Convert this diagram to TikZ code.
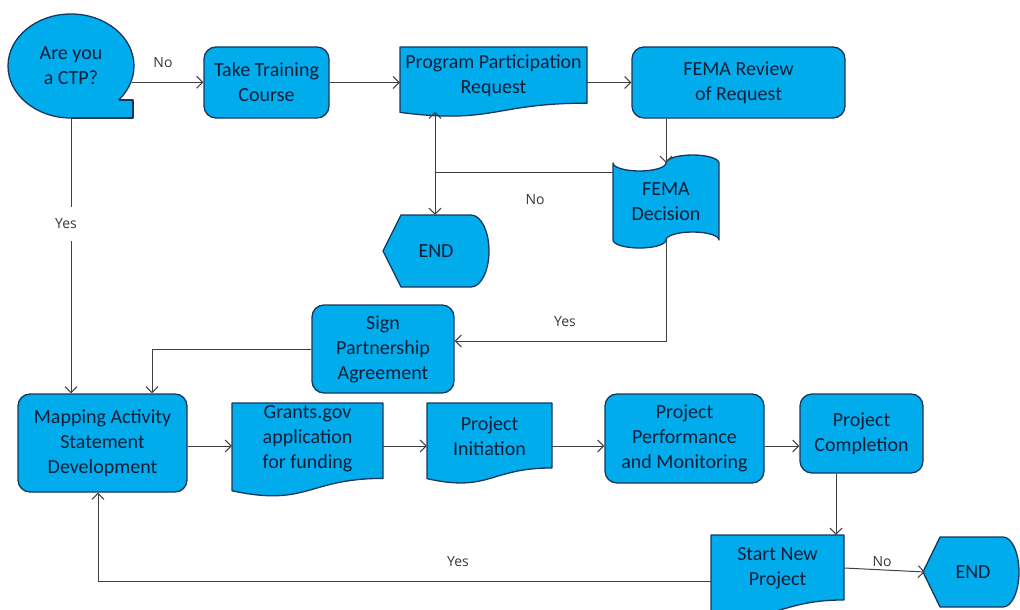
\documentclass[tikz,border=0pt]{standalone}
\usepackage{fontspec}
\setmainfont{Carlito}
\newfontfamily\lblfont{Open Sans}
\usetikzlibrary{arrows.meta,shapes.geometric,calc}
\definecolor{boxc}{RGB}{0,172,236}
\definecolor{edgec}{RGB}{23,55,94}
\definecolor{txtc}{RGB}{12,30,56}
\definecolor{linec}{RGB}{64,64,64}
\definecolor{lblc}{RGB}{55,55,55}
\tikzset{
  shapest/.style={draw=edgec, fill=boxc, line width=1.3pt, line join=round},
  txt/.style={text=txtc, align=center, inner sep=0pt, font=\fontsize{20}{25}\selectfont},
  boxst/.style={shapest, txt, rounded corners=12pt},
  conn/.style={draw=linec, line width=1pt, -{Straight Barb[length=6pt,width=12pt]}},
  plain/.style={draw=linec, line width=1pt},
  lbl/.style={text=lblc, font=\lblfont\fontsize{14}{16}\selectfont, inner sep=1pt},
}
\newcommand{\docshape}[4]{%
  \filldraw[shapest] (#1,#2) -- ({#1+#3},#2) -- ({#1+#3},{#2-0.802*#4})
    .. controls ({#1+0.5*#3},{#2-0.802*#4}) and ({#1+0.5*#3},{#2-1.107*#4}) ..
    (#1,{#2-0.934*#4}) -- cycle;}
\begin{document}
\begin{tikzpicture}[x=1pt,y=1pt]
\useasboundingbox (0,0) rectangle (1020,-610);
% ---- shapes ----
\node[shapest, txt, ellipse, minimum width=126pt, minimum height=104pt] (ctp) at (71,-66) {Are you\\a CTP?};
\fill[boxc] (71,-100) rectangle (133,-118);
\draw[draw=edgec, line width=1.3pt, line join=round] (118.6,-100) -- (133,-100) -- (133,-118) -- (71,-118);

\node[boxst, minimum width=125pt, minimum height=71pt] (train) at (266.5,-82.5) {Take Training\\Course};

\docshape{400}{-47}{187}{70}
\node[txt, minimum width=187pt, minimum height=61pt] (prog) at (493.5,-76) {Program Participation\\Request};

\node[boxst, minimum width=213pt, minimum height=71pt] (review) at (738.5,-82.5) {FEMA Review\\of Request};

\filldraw[shapest] (613,-163)
  arc[start angle=180,end angle=360,x radius=26.5pt,y radius=8pt]
  arc[start angle=180,end angle=0,x radius=26.5pt,y radius=8pt]
  -- (719,-240)
  arc[start angle=0,end angle=180,x radius=26.5pt,y radius=8pt]
  arc[start angle=0,end angle=-180,x radius=26.5pt,y radius=8pt]
  -- cycle;
\node[txt, minimum width=106pt, minimum height=77pt] (dec) at (666,-201.5) {FEMA\\Decision};

\filldraw[shapest] (383,-251) -- (401,-215) -- (471,-215)
  arc[start angle=90,end angle=-90,x radius=18pt,y radius=36pt] -- (401,-287) -- cycle;
\node[txt, minimum width=106pt, minimum height=72pt] (endA) at (436,-251) {END};

\node[boxst, minimum width=142pt, minimum height=88pt] (sign) at (383,-349) {Sign\\Partnership\\Agreement};

\node[boxst, minimum width=169pt, minimum height=98pt] (mapping) at (102.5,-443) {Mapping Activity\\Statement\\Development};

\docshape{232}{-403}{151}{94}
\node[txt, minimum width=151pt, minimum height=72pt] (grants) at (307.5,-439) {Grants.gov\\application\\for funding};

\docshape{427}{-403}{125}{81}
\node[txt, minimum width=125pt, minimum height=66pt] (init) at (489.5,-436) {Project\\Initiation};

\node[boxst, minimum width=159pt, minimum height=89pt] (perf) at (684.5,-438.5) {Project\\Performance\\and Monitoring};

\node[boxst, minimum width=123pt, minimum height=79pt] (comp) at (861.5,-433.5) {Project\\Completion};

\docshape{711}{-535}{133}{81}
\node[txt, minimum width=133pt, minimum height=66pt] (start) at (777.5,-568) {Start New\\Project};

\filldraw[shapest] (923,-572) -- (940,-537) -- (1003,-537)
  arc[start angle=90,end angle=-90,x radius=16pt,y radius=35pt] -- (940,-607) -- cycle;
\node[txt, minimum width=96pt, minimum height=70pt] (endB) at (973,-572) {END};

% ---- connectors ----
\coordinate (junc) at (435,-172);
\coordinate (row) at (0,-446);
\draw[conn] (ctp.-15) -- (ctp.-15 -| train.west);
\draw[conn] (train.east) -- (train.east -| prog.west);
\draw[conn] (prog.east |- review.west) -- (review.west);
\draw[conn] (review.south -| dec.north) -- (dec.north);
\draw[plain] (dec.west |- junc) -- (junc);
\draw[conn] (junc) -- ([yshift=-5pt]junc |- prog.south);
\draw[conn] (junc) -- (junc |- endA.north);
\draw[conn] (dec.south) |- ([yshift=8pt]sign.east);
\draw[conn] (sign.west) -| ([xshift=49.5pt]mapping.north);
\draw[conn] (ctp.south) -- (ctp.south |- mapping.north);
\draw[conn] (mapping.east |- row) -- (grants.west |- row);
\draw[conn] (grants.east |- row) -- (init.west |- row);
\draw[conn] (init.east |- row) -- (perf.west |- row);
\draw[conn] (perf.east |- row) -- (comp.west |- row);
\draw[conn] ([xshift=-25.5pt]comp.south) -- ([xshift=-25.5pt]comp.south |- start.north);
\draw[conn] (start.east) -- (endB.west);
\draw[conn] ([yshift=-13pt]start.west) -| ([xshift=-4.5pt]mapping.south);

% ---- labels ----
\node[lbl] (noA) at (163,-63) {No};
\node[lbl, fill=white, inner xsep=4pt, inner ysep=12pt] (yesA) at (66,-224) {Yes};
\node[lbl] (noB) at (535,-200) {No};
\node[lbl] (yesB) at (565,-322) {Yes};
\node[lbl] (yesC) at (458,-562) {Yes};
\node[lbl] (noC) at (882,-562) {No};
\end{tikzpicture}
\end{document}
